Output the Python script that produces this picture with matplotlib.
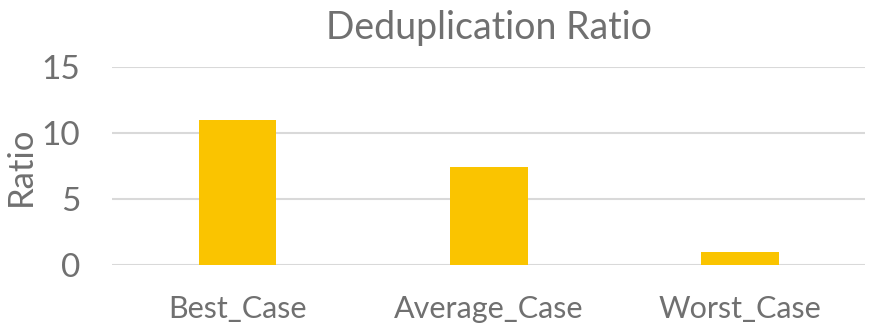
import matplotlib

matplotlib.use("Agg")
import matplotlib.pyplot as plt

plt.rcParams["font.family"] = ["Lato", "DejaVu Sans"]

# Chart data
categories = ["Best_Case", "Average_Case", "Worst_Case"]
ratios = [11.0, 7.4, 1.0]

text_color = "#707070"
bar_color = "#FAC400"
grid_color = "#D9D9D9"

fig = plt.figure(figsize=(8.75, 3.27), dpi=100)
ax = fig.add_axes([0.128, 0.19, 0.861, 0.605])

x = range(len(categories))
ax.bar(x, ratios, width=0.31, color=bar_color, zorder=3)

ax.set_xlim(-0.5, len(categories) - 0.5)
ax.set_ylim(0, 15)
ax.set_yticks([0, 5, 10, 15])
ax.set_xticks(list(x))
ax.set_xticklabels(categories)

ax.grid(axis="y", color=grid_color, linewidth=1.5, zorder=0)
for side in ["top", "right", "left", "bottom"]:
    ax.spines[side].set_visible(False)
ax.tick_params(axis="both", length=0, colors=text_color)
ax.tick_params(axis="y", pad=23, labelsize=24)
ax.tick_params(axis="x", pad=22, labelsize=22)

ax.set_ylabel("Ratio", fontsize=25, color=text_color)
ax.yaxis.set_label_coords(-0.1, 0.5)
ax.set_title("Deduplication Ratio", fontsize=27, color=text_color, pad=20)

plt.savefig("out.png", dpi=100, facecolor="white")
plt.close()
